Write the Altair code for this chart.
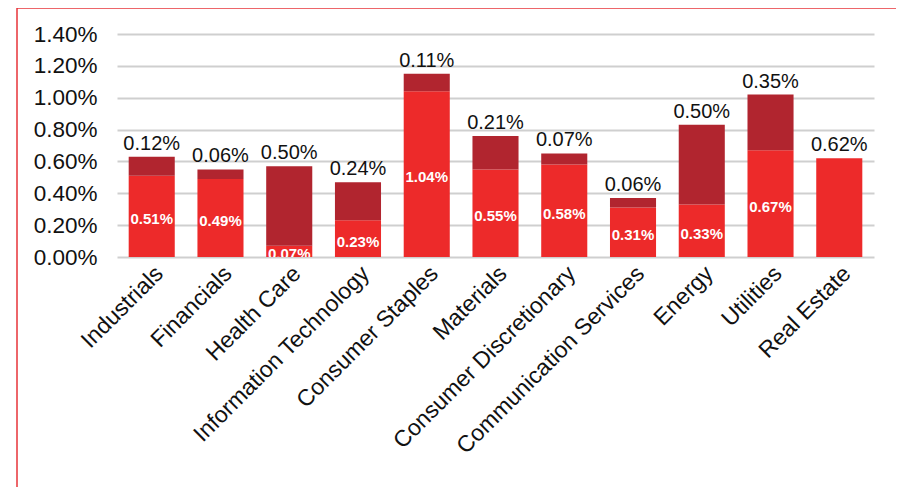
import altair as alt
import pandas as pd

categories = ["Industrials", "Financials", "Health Care", "Information Technology",
              "Consumer Staples", "Materials", "Consumer Discretionary",
              "Communication Services", "Energy", "Utilities", "Real Estate"]
bottom_vals = [0.51, 0.49, 0.07, 0.23, 1.04, 0.55, 0.58, 0.31, 0.33, 0.67, 0.62]
top_vals = [0.12, 0.06, 0.50, 0.24, 0.11, 0.21, 0.07, 0.06, 0.50, 0.35, 0.00]
top_labels = ["0.12%", "0.06%", "0.50%", "0.24%", "0.11%", "0.21%", "0.07%",
              "0.06%", "0.50%", "0.35%", "0.62%"]
bottom_labels = ["0.51%", "0.49%", "0.07%", "0.23%", "1.04%", "0.55%", "0.58%",
                 "0.31%", "0.33%", "0.67%", ""]
y_ticks = [0, 0.002, 0.004, 0.006, 0.008, 0.010, 0.012, 0.014]

df = pd.DataFrame({
    "cat": categories,
    "b": [v / 100 for v in bottom_vals],
    "t": [(b + t) / 100 for b, t in zip(bottom_vals, top_vals)],
    "bmid": [v / 200 for v in bottom_vals],
    "tl": top_labels,
    "bl": bottom_labels,
})

FONT = "Liberation Sans"
BRIGHT = "#ED2A2A"
DARK = "#B1252F"

x = alt.X("cat:N", sort=categories, title=None,
          scale=alt.Scale(paddingInner=0.33, paddingOuter=0.17),
          axis=alt.Axis(labelAngle=-45, labelAlign="right", labelBaseline="top",
                        labelFontSize=23, labelFont=FONT, labelColor="#111111",
                        labelPadding=5, ticks=False, domain=False, grid=False,
                        labelLimit=400, labelOverlap=False))
yscale = alt.Scale(domain=[0, 0.014], nice=False)
yaxis = alt.Axis(values=y_ticks, format=".2%", labelFontSize=22.5, labelFont=FONT,
                 labelColor="#111111", labelPadding=20, ticks=False, domain=False,
                 grid=True, gridColor="#CFCFCF", gridWidth=1.8, labelOverlap=False)

base = alt.Chart(df)

bar_bottom = base.mark_bar(color=BRIGHT).encode(
    x=x, y=alt.Y("b:Q", scale=yscale, axis=yaxis, title=None), y2=alt.value(223)
)
bar_top = base.mark_bar(color=DARK).encode(
    x=x, y=alt.Y("t:Q", scale=yscale, axis=yaxis, title=None), y2="b:Q"
)
top_text = base.mark_text(font=FONT, fontSize=20, color="#111111",
                          baseline="bottom", dy=-3).encode(
    x=x, y=alt.Y("t:Q", scale=yscale, axis=yaxis, title=None), text="tl:N"
)
bot_text = base.mark_text(font=FONT, fontSize=15, fontWeight="bold", color="white",
                          baseline="middle", dy=3, clip=True).encode(
    x=x, y=alt.Y("bmid:Q", scale=yscale, axis=yaxis, title=None), text="bl:N"
)
border = alt.Chart(pd.DataFrame({"a": [0]})).mark_rect(
    fillOpacity=0, stroke="#E8343A", strokeWidth=1.5
).encode(x=alt.value(-100), x2=alt.value(785), y=alt.value(-26), y2=alt.value(470))

chart = alt.layer(bar_bottom, bar_top, top_text, bot_text, border).properties(
    width=757, height=223,
    autosize=alt.AutoSizeParams(type="none"),
    padding={"left": 109, "top": 26, "right": 22, "bottom": 230},
).configure_view(stroke=None)

chart.save("out.html", embed_options={"renderer": "svg", "actions": False})
